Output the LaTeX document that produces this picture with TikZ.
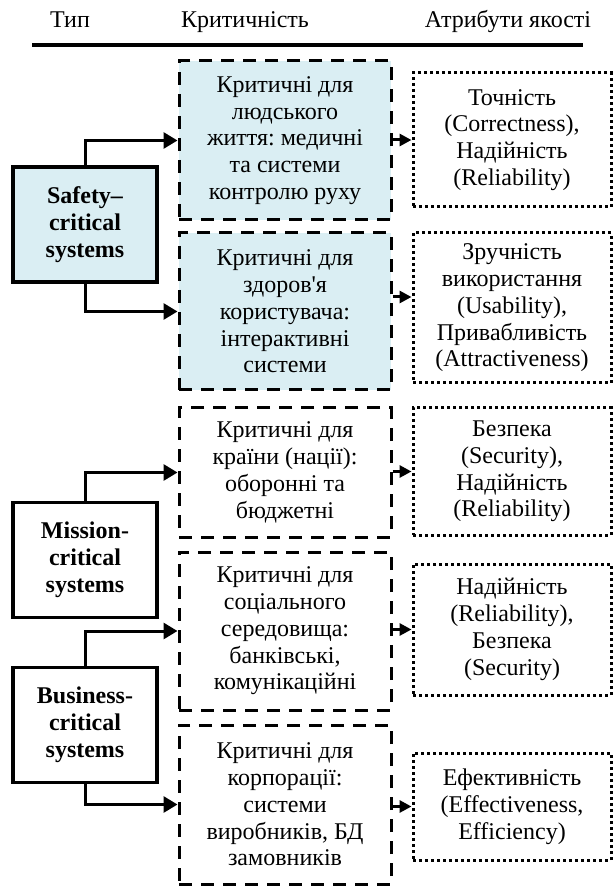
\documentclass[tikz,border=0pt]{standalone}
\usepackage{fontspec}
\setmainfont{Liberation Serif}
\usetikzlibrary{arrows.meta, positioning}
\definecolor{lightcyan}{RGB}{218, 238, 243}
\frenchspacing

\tikzset{
    every node/.style={font=\fontsize{12}{13.4}\selectfont, align=center, inner sep=0pt},
    headtext/.style={anchor=base},
    typebox/.style={draw, line width=1.6pt, minimum width=72pt, minimum height=57.5pt,
        font=\fontsize{12}{13.4}\selectfont\bfseries},
    critbox/.style={draw, line width=1.5pt, dash pattern=on 6.5pt off 4.5pt, minimum width=106pt},
    attrbox/.style={draw, line width=1.5pt, dash pattern=on 1.5pt off 1.5pt, minimum width=99pt},
    link/.style={line width=1.5pt, -{Triangle[length=7pt, width=8pt]}},
    shortlink/.style={line width=1.5pt, -{Triangle[length=6pt, width=6pt]}}
}

\begin{document}
\begin{tikzpicture}[x=0.5pt, y=-0.5pt]

    \useasboundingbox (0, 0) rectangle (613, 886);

    % header
    \node[headtext] (headtype) at (70, 28) {Тип};
    \node[headtext] (headcrit) at (245, 28) {Критичність};
    \node[headtext] (headattr) at (508, 28) {Атрибути якості};
    \draw[line width=2.25pt] (32, 45) -- (583, 45);

    % types
    \node[typebox, fill=lightcyan] (safety) at (85, 224.5) {Safety–\\critical\\systems};
    \node[typebox] (mission) at (85, 560) {Mission-\\critical\\systems};
    \node[typebox] (business) at (85, 725) {Business-\\critical\\systems};

    % criticality
    \node[critbox, fill=lightcyan, minimum height=79.5pt] (crit1) at (285, 140.5)
        {Критичні для\\людського\\життя: медичні\\та системи\\контролю руху};
    \node[critbox, fill=lightcyan, minimum height=78.5pt] (crit2) at (285, 311.5)
        {Критичні для\\здоров\textquotesingle я\\користувача:\\інтерактивні\\системи};
    \node[critbox, minimum height=64.5pt] (crit3) at (285, 472.5)
        {Критичні для\\країни (нації):\\оборонні та\\бюджетні};
    \node[critbox, minimum height=79pt] (crit4) at (285, 631)
        {Критичні для\\соціального\\середовища:\\банківські,\\комунікаційні};
    \node[critbox, minimum height=79.5pt] (crit5) at (285, 804.5)
        {Критичні для\\корпорації:\\системи\\виробників, БД\\замовників};

    % quality attributes
    \node[attrbox, minimum height=67pt] (attr1) at (512, 140)
        {Точність\\(Correctness),\\Надійність\\(Reliability)};
    \node[attrbox, minimum height=75pt] (attr2) at (512, 308)
        {Зручність\\використання\\(Usability),\\Привабливість\\(Attractiveness)};
    \node[attrbox, minimum height=63.5pt] (attr3) at (512, 471.5)
        {Безпека\\(Security),\\Надійність\\(Reliability)};
    \node[attrbox, minimum height=65.5pt] (attr4) at (512, 629.5)
        {Надійність\\(Reliability),\\Безпека\\(Security)};
    \node[attrbox, minimum height=53.5pt] (attr5) at (512, 806.5)
        {Ефективність\\(Effectiveness,\\Efficiency)};

    % links
    \draw[link] (safety.north) |- (crit1.west);
    \draw[link] (safety.south) |- (crit2.west);
    \draw[link] (mission.north) |- (crit3.west);
    \draw[link] (business.north) |- (crit4.west);
    \draw[link] (business.south) |- (crit5.west);

    \foreach \i/\dy in {1/0, 2/5.5, 3/0, 4/0, 5/0} {%
        \draw[shortlink] ([yshift=\dy pt]crit\i.east |- attr\i.west) -- ([yshift=\dy pt]attr\i.west);
    };

\end{tikzpicture}
\end{document}
